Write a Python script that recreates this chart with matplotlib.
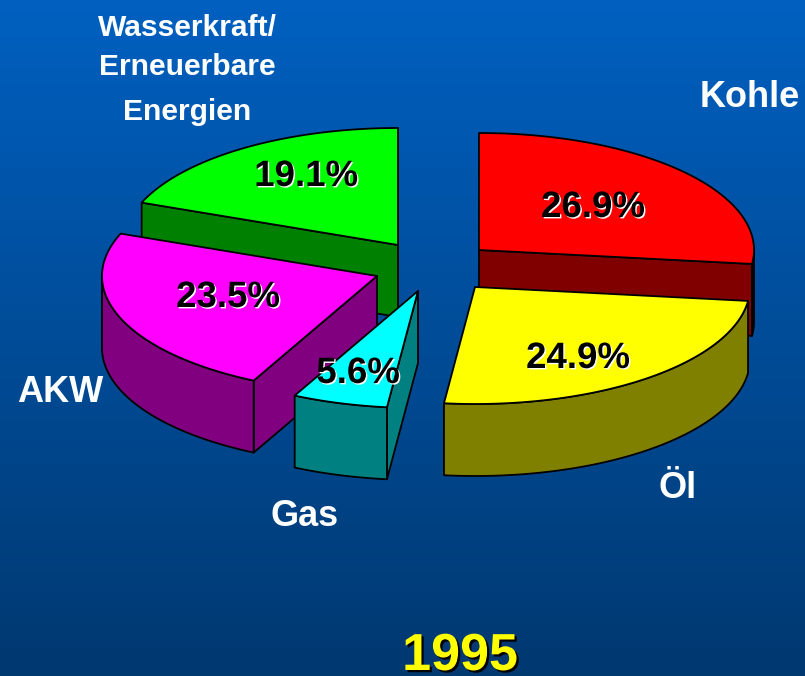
import numpy as np
import matplotlib
matplotlib.use("Agg")
import matplotlib.pyplot as plt
import matplotlib.patheffects as pe
from matplotlib.patches import Polygon

# shares in percent, clockwise from 12 o'clock
categories = ["Kohle", "Öl", "Gas", "AKW", "Wasserkraft"]
shares = [26.9, 24.9, 5.6, 23.5, 19.1]
year = "1995"

top_colors = ["#ff0000", "#ffff00", "#00ffff", "#ff00ff", "#00ff00"]
side_colors = ["#800000", "#808000", "#008080", "#800080", "#008000"]

# exploded position of every slice tip, in pixels
tips = {"Kohle": (479, 250), "Öl": (475, 287), "Gas": (418, 291), "AKW": (377, 276), "Wasserkraft": (398, 245)}
draw_order = ["Wasserkraft", "Kohle", "AKW", "Öl", "Gas"]
RX, RY, DEPTH = 275, 117, 72

plt.rcParams["font.family"] = ["Liberation Sans", "DejaVu Sans"]
plt.rcParams["font.weight"] = "bold"


def rim(cx, cy, t0, t1):
    t = np.radians(np.linspace(t0, t1, 120))
    return np.column_stack([cx + RX * np.sin(t), cy - RY * np.cos(t)])


def draw_slice(ax, tip, t0, t1, top, side):
    cx, cy = tip
    edge = rim(cx, cy, t0, t1)
    down = np.array([0, DEPTH])
    style = dict(edgecolor="black", linewidth=1.3, joinstyle="round")
    # cut faces that look towards the viewer
    if t0 > 180:
        quad = [tip, edge[0], edge[0] + down, np.array(tip) + down]
        ax.add_patch(Polygon(quad, facecolor=side, **style))
    if t1 < 180:
        quad = [tip, edge[-1], edge[-1] + down, np.array(tip) + down]
        ax.add_patch(Polygon(quad, facecolor=side, **style))
    # outer wall, front half of the ellipse only
    w0, w1 = max(t0, 90), min(t1, 270)
    if w1 > w0:
        front = rim(cx, cy, w0, w1)
        wall = np.vstack([front, (front + down)[::-1]])
        ax.add_patch(Polygon(wall, facecolor=side, **style))
    ax.add_patch(Polygon(np.vstack([[tip], edge]), facecolor=top, **style))


def main():
    fig = plt.figure(figsize=(8.05, 6.76), dpi=100)
    ax = fig.add_axes([0, 0, 1, 1])

    # background runs from blue to dark blue
    grad = np.linspace(0, 1, 256).reshape(-1, 1)
    c0, c1 = np.array([0, 96, 192]) / 255, np.array([0, 56, 112]) / 255
    ax.imshow((c0 + (c1 - c0) * grad[..., None]), extent=[0, 805, 676, 0], aspect="auto", zorder=0)

    bounds = np.concatenate([[0], np.cumsum(shares)]) / sum(shares) * 360
    for name in draw_order:
        i = categories.index(name)
        draw_slice(ax, tips[name], bounds[i], bounds[i + 1], top_colors[i], side_colors[i])

    ax.set_xlim(0, 805)
    ax.set_ylim(676, 0)
    ax.axis("off")

    # category labels
    ax.text(187, 36, "Wasserkraft/", color="white", fontsize=21.6, ha="center", va="baseline")
    ax.text(187, 75, "Erneuerbare", color="white", fontsize=21.6, ha="center", va="baseline")
    ax.text(187, 120, "Energien", color="white", fontsize=21.6, ha="center", va="baseline")
    ax.text(750, 107, "Kohle", color="white", fontsize=26, ha="center", va="baseline")
    ax.text(678, 498, "Öl", color="white", fontsize=26, ha="center", va="baseline")
    ax.text(305, 526, "Gas", color="white", fontsize=26, ha="center", va="baseline")
    ax.text(60, 402, "AKW", color="white", fontsize=26, ha="center", va="baseline")

    # percent labels, black with a white shadow
    label_pos = {"Kohle": (593, 217), "Öl": (578, 368), "Gas": (358, 383), "AKW": (228, 307), "Wasserkraft": (306, 186)}
    shadow = [pe.SimplePatchShadow(offset=(1, -1), shadow_rgbFace="white", alpha=1), pe.Normal()]
    for name, share in zip(categories, shares):
        x, y = label_pos[name]
        ax.text(x, y, f"{share}%", color="black", fontsize=26.4, ha="center", va="baseline", path_effects=shadow)

    ax.text(460, 670, year, color="#ffff00", fontsize=37.5, ha="center", va="baseline",
            path_effects=[pe.SimplePatchShadow(offset=(1.6, -1.6), shadow_rgbFace="black", alpha=1), pe.Normal()])

    fig.savefig("out.png", dpi=100)


if __name__ == "__main__":
    main()
